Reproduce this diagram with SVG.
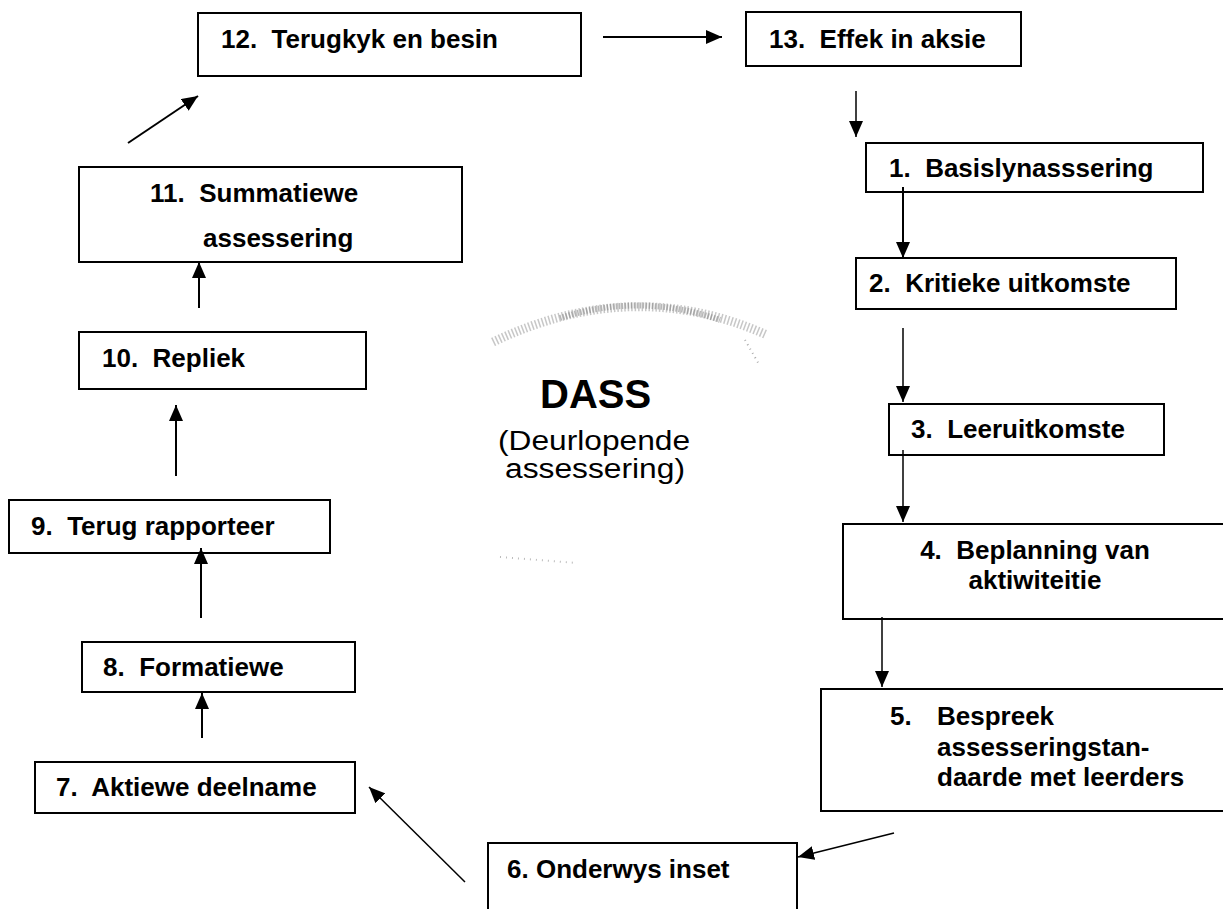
<svg xmlns="http://www.w3.org/2000/svg" width="1223" height="909" viewBox="0 0 1223 909">
<style>
  .box { fill: none; stroke: #000; stroke-width: 2; }
  .lbl { font-family: "Liberation Sans", Arial, Helvetica, sans-serif; font-weight: bold; font-size: 26px; fill: #000; }
  .title { font-family: "Liberation Sans", Arial, Helvetica, sans-serif; font-weight: bold; font-size: 40px; fill: #000; }
  .sub { font-family: "Liberation Sans", Arial, Helvetica, sans-serif; font-size: 27px; fill: #000; }
  .conn { stroke: #000; stroke-width: 2; fill: none; marker-end: url(#ah); }
  .thin { stroke-width: 1.5; }
</style>
<defs>
  <marker id="ah" markerUnits="userSpaceOnUse" markerWidth="16" markerHeight="14" refX="16" refY="7" orient="auto">
    <path d="M0,0 L16,7 L0,14 Z" fill="#000"/>
  </marker>
</defs>
<rect width="1223" height="909" fill="#fff"/>

<g id="halo">
  <path d="M493,342 Q633,275 767,335" fill="none" stroke="#999" stroke-width="9" stroke-dasharray="1.5 2" opacity="0.55"/>
  <path d="M560,318 Q640,292 720,320" fill="none" stroke="#888" stroke-width="6" stroke-dasharray="1.5 1.5" opacity="0.6"/>
  <path d="M745,340 L760,366" fill="none" stroke="#aaa" stroke-width="2" stroke-dasharray="1 4"/>
  <path d="M500,557 L577,563" fill="none" stroke="#bbb" stroke-width="2" stroke-dasharray="1 5"/>
</g>

<g id="center">
  <text class="title" x="540" y="408">DASS</text>
  <text class="sub" x="498" y="450" textLength="192" lengthAdjust="spacingAndGlyphs">(Deurlopende</text>
  <text class="sub" x="505" y="478" textLength="180" lengthAdjust="spacingAndGlyphs">assessering)</text>
</g>

<g id="n12"><rect class="box" x="198" y="13" width="383" height="63"/><text class="lbl" x="221" y="48" xml:space="preserve">12.  Terugkyk en besin</text></g>
<g id="n13"><rect class="box" x="746" y="12" width="275" height="54"/><text class="lbl" x="769" y="48" xml:space="preserve">13.  Effek in aksie</text></g>
<g id="n1"><rect class="box" x="866" y="143" width="337" height="49"/><text class="lbl" x="889" y="177" xml:space="preserve">1.  Basislynasssering</text></g>
<g id="n2"><rect class="box" x="856" y="258" width="320" height="51"/><text class="lbl" x="869" y="292" xml:space="preserve">2.  Kritieke uitkomste</text></g>
<g id="n3"><rect class="box" x="889" y="404" width="275" height="51"/><text class="lbl" x="911" y="438" xml:space="preserve">3.  Leeruitkomste</text></g>
<g id="n4"><rect class="box" x="843" y="524" width="390" height="95"/>
  <text class="lbl" x="1035" y="559" text-anchor="middle" xml:space="preserve">4.  Beplanning van</text>
  <text class="lbl" x="1035" y="589" text-anchor="middle">aktiwiteitie</text></g>
<g id="n5"><rect class="box" x="821" y="689" width="410" height="122"/>
  <text class="lbl"><tspan x="890" y="725">5.</tspan><tspan x="937" y="725">Bespreek</tspan><tspan x="937" y="756">assesseringstan-</tspan><tspan x="937" y="786">daarde met leerders</tspan></text></g>
<g id="n6"><rect class="box" x="488" y="843" width="309" height="80"/><text class="lbl" x="507" y="878">6. Onderwys inset</text></g>
<g id="n7"><rect class="box" x="35" y="762" width="320" height="51"/><text class="lbl" x="56" y="796" xml:space="preserve">7.  Aktiewe deelname</text></g>
<g id="n8"><rect class="box" x="82" y="642" width="273" height="50"/><text class="lbl" x="103" y="676" xml:space="preserve">8.  Formatiewe</text></g>
<g id="n9"><rect class="box" x="9" y="500" width="321" height="53"/><text class="lbl" x="31" y="535" xml:space="preserve">9.  Terug rapporteer</text></g>
<g id="n10"><rect class="box" x="79" y="332" width="287" height="57"/><text class="lbl" x="102" y="367" xml:space="preserve">10.  Repliek</text></g>
<g id="n11"><rect class="box" x="79" y="167" width="383" height="95"/>
  <text class="lbl" x="150" y="202" xml:space="preserve">11.  Summatiewe</text>
  <text class="lbl" x="203" y="247">assessering</text></g>

<g id="connectors">
  <line class="conn" x1="128" y1="143" x2="198" y2="96"/>
  <line class="conn" x1="603" y1="37" x2="722" y2="37"/>
  <line class="conn thin" x1="856" y1="91" x2="856" y2="137"/>
  <line class="conn" x1="903" y1="187" x2="903" y2="258"/>
  <line class="conn thin" x1="903" y1="328" x2="903" y2="402"/>
  <line class="conn thin" x1="903" y1="450" x2="903" y2="522"/>
  <line class="conn thin" x1="882" y1="617" x2="882" y2="687"/>
  <line class="conn thin" x1="894" y1="833" x2="798" y2="857"/>
  <line class="conn thin" x1="465" y1="882" x2="369" y2="787"/>
  <line class="conn" x1="202" y1="738" x2="202" y2="693"/>
  <line class="conn" x1="201" y1="618" x2="201" y2="548"/>
  <line class="conn" x1="176" y1="476" x2="176" y2="405"/>
  <line class="conn" x1="199" y1="308" x2="199" y2="262"/>
</g>
</svg>
